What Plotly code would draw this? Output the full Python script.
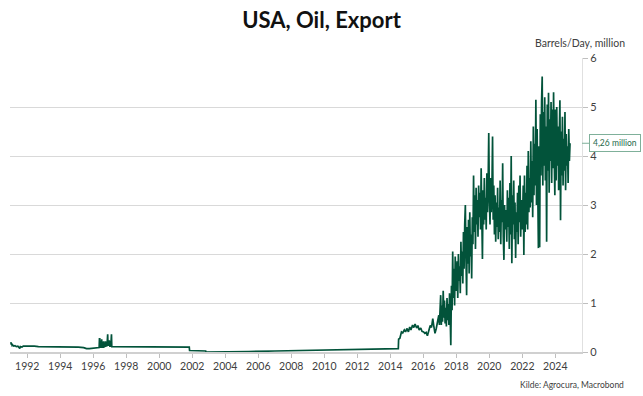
import pandas as pd
import plotly.graph_objects as go

# ---- data ----
early_dates = [
    "1991-01-04", "1991-01-11", "1991-01-18", "1991-02-01", "1991-02-15", "1991-03-08",
    "1991-04-05", "1991-05-03", "1991-06-07", "1991-07-05", "1991-07-19", "1991-08-02",
    "1991-09-06", "1991-10-04", "1991-12-06", "1992-03-06", "1992-06-05", "1992-09-04",
    "1993-01-08", "1993-06-04", "1993-11-05", "1994-01-07", "1994-02-04", "1994-08-05",
    "1995-02-03", "1995-06-02", "1995-08-04", "1995-10-06", "1996-01-05", "1996-04-05",
    "1996-05-10", "1996-05-17", "1996-05-24", "1996-05-31", "1996-06-28", "1996-07-05",
    "1996-07-12", "1996-08-09", "1996-08-16", "1996-08-23", "1996-09-20", "1996-09-27",
    "1996-10-04", "1996-11-01", "1996-11-08", "1996-11-15", "1996-11-22", "1996-12-13",
    "1996-12-20", "1997-01-03", "1997-01-24", "1997-01-31", "1997-02-07", "1997-02-14",
    "1997-06-06", "1998-06-05", "1999-06-04", "2000-06-02", "2001-06-01", "2001-10-26",
    "2001-11-02", "2002-06-07", "2002-10-25", "2002-11-01", "2004-01-02", "2005-06-03",
    "2007-01-05", "2009-01-02", "2011-01-07", "2013-01-04", "2014-06-27", "2014-07-04",
    "2014-08-01", "2014-09-05", "2014-10-03", "2014-11-07", "2014-12-05", "2015-01-02",
    "2015-02-06", "2015-03-06", "2015-04-03", "2015-05-08", "2015-06-05", "2015-07-03",
    "2015-08-07", "2015-09-04", "2015-10-02", "2015-11-06", "2015-12-04", "2016-01-08",
    "2016-02-05", "2016-03-04", "2016-04-01", "2016-05-06", "2016-06-03", "2016-07-01",
    "2016-07-29", "2016-08-19", "2016-09-16", "2016-10-14", "2016-11-11", "2016-12-09",
    "2016-12-23",
]
early_values = [
    0.20, 0.15, 0.18, 0.13, 0.14, 0.12,
    0.13, 0.11, 0.12, 0.09, 0.07, 0.11,
    0.10, 0.12, 0.12, 0.13, 0.12, 0.11,
    0.11, 0.11, 0.10, 0.11, 0.10, 0.10,
    0.10, 0.09, 0.07, 0.07, 0.08, 0.09,
    0.09, 0.27, 0.27, 0.10, 0.10, 0.26,
    0.10, 0.10, 0.22, 0.10, 0.12, 0.22,
    0.12, 0.13, 0.36, 0.36, 0.14, 0.14,
    0.24, 0.12, 0.12, 0.36, 0.36, 0.11,
    0.11, 0.11, 0.11, 0.11, 0.10, 0.10,
    0.03, 0.02, 0.02, 0.00, 0.00, 0.01,
    0.02, 0.03, 0.04, 0.05, 0.07, 0.26,
    0.28, 0.41, 0.39, 0.45, 0.41, 0.48,
    0.41, 0.51, 0.45, 0.55, 0.50, 0.57,
    0.49, 0.54, 0.45, 0.49, 0.42, 0.41,
    0.38, 0.40, 0.33, 0.45, 0.54, 0.50,
    0.68, 0.54, 0.38, 0.48, 0.65, 0.75,
    0.55,
]

# bi-weekly readings, one list per year (starting on the first Friday of January)
values_2017 = [0.75, 1.16, 0.55, 0.95, 0.62, 1.25, 0.70, 1.05, 0.58, 0.90, 0.52, 1.10, 0.65,
               0.98, 0.55, 1.20, 0.72, 0.14, 1.35, 0.85, 2.05, 1.10, 1.70, 0.95, 1.95, 1.25]
values_2018 = [1.30, 1.85, 1.10, 2.00, 1.45, 1.75, 1.20, 2.25, 1.55, 2.05, 1.40, 2.45, 1.70,
               2.60, 3.00, 1.90, 1.16, 2.55, 1.80, 2.70, 1.60, 2.85, 1.95, 2.40, 1.50, 2.75]
values_2019 = [2.20, 3.60, 2.45, 3.20, 2.10, 3.35, 2.60, 3.10, 2.35, 3.40, 2.75, 3.25, 2.50,
               3.75, 2.90, 1.90, 3.30, 2.60, 3.55, 2.70, 3.15, 2.50, 3.65, 2.85, 3.40, 4.47]
values_2020 = [3.10, 2.60, 3.55, 2.85, 3.30, 4.40, 2.70, 3.40, 2.40, 3.20, 2.25, 3.05, 2.55,
               3.35, 2.30, 2.95, 2.45, 3.50, 2.20, 3.10, 2.65, 3.85, 2.35, 1.88, 3.00, 2.50]
values_2021 = [2.90, 2.25, 3.30, 2.55, 3.15, 2.10, 3.45, 2.40, 4.00, 1.81, 3.20, 2.60, 3.50,
               2.30, 3.05, 1.92, 2.85, 2.45, 3.25, 2.20, 3.40, 2.65, 3.60, 2.35, 3.10, 2.50]
values_2022 = [2.70, 3.40, 1.98, 3.60, 2.45, 3.25, 2.60, 3.80, 2.50, 4.10, 2.85, 3.55, 2.95,
               4.30, 3.05, 3.90, 2.75, 4.60, 3.20, 4.25, 3.40, 5.15, 3.00, 4.55, 3.35, 2.12]
values_2023 = [4.20, 2.14, 4.85, 3.60, 5.10, 5.62, 3.40, 4.90, 3.80, 5.20, 3.50, 4.60, 2.25,
               5.05, 3.70, 5.29, 3.25, 4.75, 3.90, 5.10, 3.45, 4.95, 3.75, 5.30, 4.00, 3.20]
values_2024 = [4.95, 3.50, 5.00, 3.80, 4.60, 3.30, 4.40, 5.14, 2.69, 4.50, 3.60, 4.80,
               3.40, 4.35, 3.70, 4.90, 3.30, 4.45, 3.80, 4.20, 3.45, 4.55, 3.90, 4.26]
year_starts = {2017: "2017-01-06", 2018: "2018-01-05", 2019: "2019-01-04", 2020: "2020-01-03",
               2021: "2021-01-08", 2022: "2022-01-07", 2023: "2023-01-06", 2024: "2024-01-05"}
yearly_values = {2017: values_2017, 2018: values_2018, 2019: values_2019, 2020: values_2020,
                 2021: values_2021, 2022: values_2022, 2023: values_2023, 2024: values_2024}

tick_years = list(range(1992, 2025, 2))
tick_labels = [str(y) for y in tick_years]

title_text = "USA, Oil, Export"
unit_text = "Barrels/Day, million"
source_text = "Kilde: Agrocura, Macrobond"

# ---- assemble ----
dates = list(pd.to_datetime(early_dates))
values = list(early_values)
for yr, vals in yearly_values.items():
    dates += list(pd.date_range(start=year_starts[yr], periods=len(vals), freq="14D"))
    values += vals

last_value = values[-1]
FONT = "Lato"
GREEN = "#02533a"

fig = go.Figure(go.Scatter(x=dates, y=values, mode="lines",
                           line=dict(color=GREEN, width=1.7), hoverinfo="skip"))

fig.update_layout(
    width=643, height=396,
    margin=dict(l=10, r=61, t=58, b=44),
    paper_bgcolor="white", plot_bgcolor="white",
    showlegend=False,
    font=dict(family=FONT, color="#404040", size=10),
    title=dict(text=f"<b>{title_text}</b>", x=0.5, xref="container", xanchor="center",
               y=1 - 20 / 396, yanchor="middle", font=dict(family=FONT, size=22, color="#111111")),
    xaxis=dict(type="date", range=["1990-12-15", "2025-08-14"],
               tickvals=[f"{y}-01-01" for y in tick_years], ticktext=tick_labels,
               ticks="outside", ticklen=4, tickcolor="#bfbfbf", showgrid=False,
               showline=True, linecolor="#d0d0d0", linewidth=1.5, zeroline=False,
               tickfont=dict(family=FONT, size=10.5, color="#404040")),
    yaxis=dict(side="right", range=[0, 6], dtick=1, showgrid=True, gridcolor="#d9d9d9",
               ticks="outside", ticklen=5, tickcolor="#bfbfbf", showline=True,
               linecolor="#e0e0e0", zeroline=False,
               tickfont=dict(family=FONT, size=11, color="#404040")),
)

fig.add_annotation(text=unit_text, xref="paper", yref="paper", x=(627 - 10) / 572,
                   y=(352 - 43) / 294, xanchor="right", yanchor="middle", showarrow=False,
                   font=dict(family=FONT, size=10.5, color="#404040"))
fig.add_annotation(text=source_text, xref="paper", yref="paper", x=(626 - 10) / 572,
                   y=(352 - 385) / 294, xanchor="right", yanchor="middle", showarrow=False,
                   font=dict(family=FONT, size=8.5, color="#404040"))
fig.add_annotation(text=f"{last_value:.2f}".replace(".", ",") + " million",
                   xref="paper", yref="y", x=1, y=last_value, ax=7, ay=0,
                   xanchor="left", yanchor="middle", showarrow=True, arrowhead=0,
                   arrowwidth=1, arrowcolor="#7fb09a", bordercolor="#7fb09a", borderwidth=1,
                   borderpad=3, bgcolor="white",
                   font=dict(family=FONT, size=8.5, color="#1f6a4c"))

fig.write_html("out.html", config={"displayModeBar": False},
               post_script="document.body.style.margin='0';document.body.style.padding='0';")
